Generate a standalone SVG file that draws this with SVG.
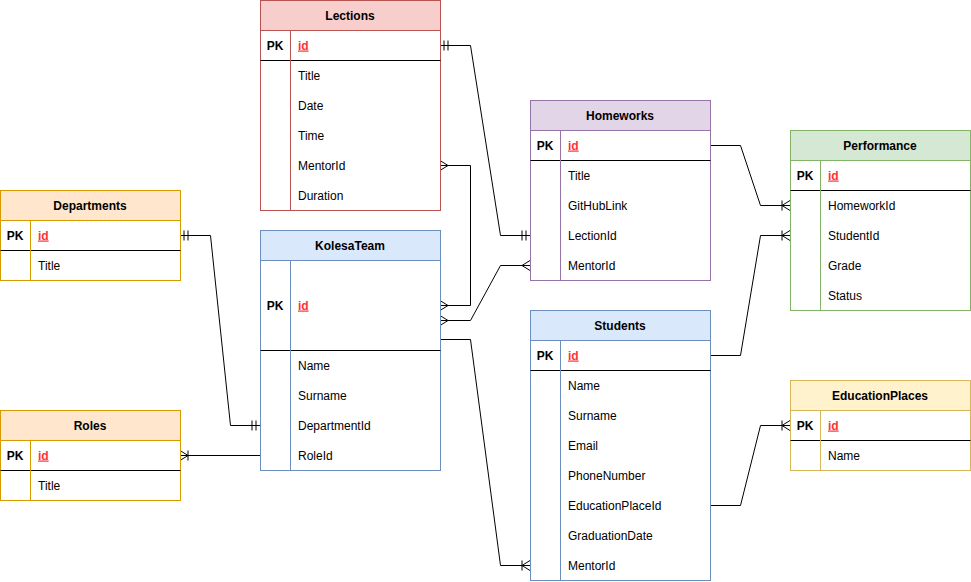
<svg xmlns="http://www.w3.org/2000/svg" width="971" height="582" viewBox="0 0 971 582">
<style>
text{font-family:"Liberation Sans",Arial,sans-serif;font-size:12px;fill:#000}
.h{font-weight:bold;text-anchor:middle}
.pk{font-weight:bold;text-anchor:middle}
.id{font-weight:bold;fill:#ff3333;text-decoration:underline}
.sep{stroke:#000;stroke-width:1}
.c{fill:none;stroke:#000;stroke-width:1}
</style>
<defs>
<marker id="mandOne" markerUnits="userSpaceOnUse" viewBox="-12 -6 12 12" refX="0" refY="0" markerWidth="12" markerHeight="12" orient="auto-start-reverse" overflow="visible">
<path d="M-4,-5 L-4,5 M-8,-5 L-8,5" fill="none" stroke="#000" stroke-width="1"/>
</marker>
<marker id="many" markerUnits="userSpaceOnUse" viewBox="-12 -6 12 12" refX="0" refY="0" markerWidth="12" markerHeight="12" orient="auto-start-reverse" overflow="visible">
<path d="M0,-5 L-8,0 L0,5" fill="none" stroke="#000" stroke-width="1"/>
</marker>
<marker id="oneToMany" markerUnits="userSpaceOnUse" viewBox="-12 -6 12 12" refX="0" refY="0" markerWidth="12" markerHeight="12" orient="auto-start-reverse" overflow="visible">
<path d="M0,-5 L-8,0 L0,5 M-8,-5 L-8,5" fill="none" stroke="#000" stroke-width="1"/>
</marker>
</defs>
<rect x="0" y="0" width="971" height="582" fill="#fff"/>

<g id="connectors">
<path class="c" d="M440,45.5 L470.5,45.5 L500.5,235.5 L530,235.5" marker-start="url(#mandOne)" marker-end="url(#mandOne)"/>
<path class="c" d="M440,165.5 L470.5,165.5 L470.5,305.5 L440,305.5" marker-start="url(#many)" marker-end="url(#many)"/>
<path class="c" d="M440,320.5 L470.5,320.5 L500.5,265.5 L530,265.5" marker-start="url(#many)" marker-end="url(#many)"/>
<path class="c" d="M710,145.5 L740.5,145.5 L760.5,205.5 L790,205.5" marker-end="url(#oneToMany)"/>
<path class="c" d="M710,355.5 L740.5,355.5 L760.5,235.5 L790,235.5" marker-end="url(#oneToMany)"/>
<path class="c" d="M710,505.5 L740.5,505.5 L760.5,425.5 L790,425.5" marker-end="url(#oneToMany)"/>
<path class="c" d="M440,339.5 L470.5,339.5 L500.5,565.5 L530,565.5" marker-end="url(#oneToMany)"/>
<path class="c" d="M180,235.5 L210.5,235.5 L230.5,425.5 L260,425.5" marker-start="url(#mandOne)" marker-end="url(#mandOne)"/>
<path class="c" d="M180,455.5 L260,455.5" marker-start="url(#oneToMany)"/>
</g>

<g id="lections">
<rect x="260.5" y="0.5" width="180" height="210" fill="#fff" stroke="#b85450"/>
<rect x="260.5" y="0.5" width="180" height="30" fill="#f8cecc" stroke="#b85450"/>
<line class="sep" x1="260.5" y1="60.5" x2="440.5" y2="60.5"/>
<line x1="290.5" y1="30.5" x2="290.5" y2="210" stroke="#b85450"/>
<text class="h" x="350" y="19.5">Lections</text>
<text class="pk" x="275" y="49.5">PK</text>
<text class="id" x="298" y="49.5">id</text>
<text x="298" y="79.5">Title</text>
<text x="298" y="109.5">Date</text>
<text x="298" y="139.5">Time</text>
<text x="298" y="169.5">MentorId</text>
<text x="298" y="199.5">Duration</text>
</g>

<g id="homeworks">
<rect x="530.5" y="100.5" width="180" height="180" fill="#fff" stroke="#9673a6"/>
<rect x="530.5" y="100.5" width="180" height="30" fill="#e1d5e7" stroke="#9673a6"/>
<line class="sep" x1="530.5" y1="160.5" x2="710.5" y2="160.5"/>
<line x1="560.5" y1="130.5" x2="560.5" y2="280" stroke="#9673a6"/>
<text class="h" x="620" y="119.5">Homeworks</text>
<text class="pk" x="545" y="149.5">PK</text>
<text class="id" x="568" y="149.5">id</text>
<text x="568" y="179.5">Title</text>
<text x="568" y="209.5">GitHubLink</text>
<text x="568" y="239.5">LectionId</text>
<text x="568" y="269.5">MentorId</text>
</g>

<g id="performance">
<rect x="790.5" y="130.5" width="180" height="180" fill="#fff" stroke="#82b366"/>
<rect x="790.5" y="130.5" width="180" height="30" fill="#d5e8d4" stroke="#82b366"/>
<line class="sep" x1="790.5" y1="190.5" x2="970.5" y2="190.5"/>
<line x1="820.5" y1="160.5" x2="820.5" y2="310" stroke="#82b366"/>
<text class="h" x="880" y="149.5">Performance</text>
<text class="pk" x="805" y="179.5">PK</text>
<text class="id" x="828" y="179.5">id</text>
<text x="828" y="209.5">HomeworkId</text>
<text x="828" y="239.5">StudentId</text>
<text x="828" y="269.5">Grade</text>
<text x="828" y="299.5">Status</text>
</g>

<g id="departments">
<rect x="0.5" y="190.5" width="180" height="90" fill="#fff" stroke="#d79b00"/>
<rect x="0.5" y="190.5" width="180" height="30" fill="#ffe6cc" stroke="#d79b00"/>
<line class="sep" x1="0.5" y1="250.5" x2="180.5" y2="250.5"/>
<line x1="30.5" y1="220.5" x2="30.5" y2="280" stroke="#d79b00"/>
<text class="h" x="90" y="209.5">Departments</text>
<text class="pk" x="15" y="239.5">PK</text>
<text class="id" x="38" y="239.5">id</text>
<text x="38" y="269.5">Title</text>
</g>

<g id="kolesateam">
<rect x="260.5" y="230.5" width="180" height="240" fill="#fff" stroke="#6c8ebf"/>
<rect x="260.5" y="230.5" width="180" height="30" fill="#dae8fc" stroke="#6c8ebf"/>
<line class="sep" x1="260.5" y1="350.5" x2="440.5" y2="350.5"/>
<line x1="290.5" y1="260.5" x2="290.5" y2="470" stroke="#6c8ebf"/>
<text class="h" x="350" y="249.5">KolesaTeam</text>
<text class="pk" x="275" y="309.5">PK</text>
<text class="id" x="298" y="309.5">id</text>
<text x="298" y="369.5">Name</text>
<text x="298" y="399.5">Surname</text>
<text x="298" y="429.5">DepartmentId</text>
<text x="298" y="459.5">RoleId</text>
</g>

<g id="roles">
<rect x="0.5" y="410.5" width="180" height="90" fill="#fff" stroke="#d79b00"/>
<rect x="0.5" y="410.5" width="180" height="30" fill="#ffe6cc" stroke="#d79b00"/>
<line class="sep" x1="0.5" y1="470.5" x2="180.5" y2="470.5"/>
<line x1="30.5" y1="440.5" x2="30.5" y2="500" stroke="#d79b00"/>
<text class="h" x="90" y="429.5">Roles</text>
<text class="pk" x="15" y="459.5">PK</text>
<text class="id" x="38" y="459.5">id</text>
<text x="38" y="489.5">Title</text>
</g>

<g id="students">
<rect x="530.5" y="310.5" width="180" height="270" fill="#fff" stroke="#6c8ebf"/>
<rect x="530.5" y="310.5" width="180" height="30" fill="#dae8fc" stroke="#6c8ebf"/>
<line class="sep" x1="530.5" y1="370.5" x2="710.5" y2="370.5"/>
<line x1="560.5" y1="340.5" x2="560.5" y2="580" stroke="#6c8ebf"/>
<text class="h" x="620" y="329.5">Students</text>
<text class="pk" x="545" y="359.5">PK</text>
<text class="id" x="568" y="359.5">id</text>
<text x="568" y="389.5">Name</text>
<text x="568" y="419.5">Surname</text>
<text x="568" y="449.5">Email</text>
<text x="568" y="479.5">PhoneNumber</text>
<text x="568" y="509.5">EducationPlaceId</text>
<text x="568" y="539.5">GraduationDate</text>
<text x="568" y="569.5">MentorId</text>
</g>

<g id="educationplaces">
<rect x="790.5" y="380.5" width="180" height="90" fill="#fff" stroke="#d6b656"/>
<rect x="790.5" y="380.5" width="180" height="30" fill="#fff2cc" stroke="#d6b656"/>
<line class="sep" x1="790.5" y1="440.5" x2="970.5" y2="440.5"/>
<line x1="820.5" y1="410.5" x2="820.5" y2="470" stroke="#d6b656"/>
<text class="h" x="880" y="399.5">EducationPlaces</text>
<text class="pk" x="805" y="429.5">PK</text>
<text class="id" x="828" y="429.5">id</text>
<text x="828" y="459.5">Name</text>
</g>
</svg>
